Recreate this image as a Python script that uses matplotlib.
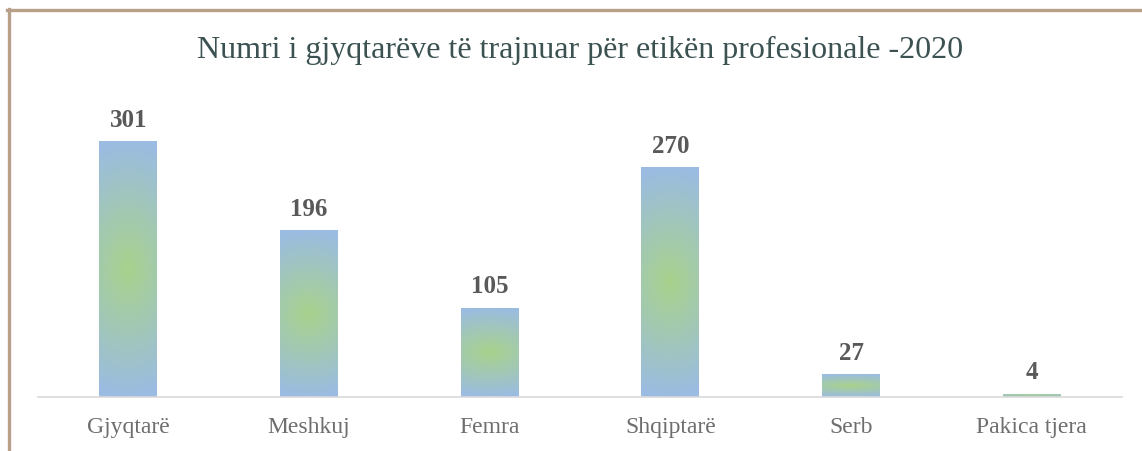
import numpy as np
import matplotlib
matplotlib.use("Agg")
from matplotlib import pyplot as plt
from matplotlib.lines import Line2D

categories = ["Gjyqtarë", "Meshkuj", "Femra", "Shqiptarë", "Serb", "Pakica tjera"]
values = [301, 196, 105, 270, 27, 4]
title = "Numri i gjyqtarëve të trajnuar për etikën profesionale -2020"

plt.rcParams['font.family'] = ['Liberation Serif', 'DejaVu Serif']

W, H = 1142, 452
fig = plt.figure(figsize=(W / 100, H / 100), dpi=100)
ax = fig.add_axes([38 / W, (H - 398) / H, (1122 - 38) / W, (398 - 100) / H])

x = np.arange(len(categories))
bars = ax.bar(x, values, width=0.32, color="none", edgecolor="none")

# radial-ish gradient: green in the middle, blue at the edges
green = np.array([168, 210, 140]) / 255
blue = np.array([155, 188, 226]) / 255
ny, nx = 200, 60
yy, xx = np.mgrid[-1:1:ny * 1j, -1:1:nx * 1j]
r = np.clip(np.sqrt((0.35 * xx) ** 2 + yy ** 2), 0, 1)
img = green[None, None, :] * (1 - r[..., None]) + blue[None, None, :] * r[..., None]

for b, v in zip(bars, values):
    x0, w, h = b.get_x(), b.get_width(), b.get_height()
    im = ax.imshow(img, extent=[x0, x0 + w, 0, h], aspect="auto", zorder=2,
                   interpolation="bilinear")
    im.set_clip_path(b)
    ax.text(x0 + w / 2, h + 12, str(v), ha="center", va="bottom",
            fontsize=18, fontweight="bold", color="#595959")

ax.set_xlim(-0.5, len(categories) - 0.5)
ax.set_ylim(0, 350)
ax.set_xticks(x)
ax.set_xticklabels(categories, fontsize=17, color="#6e6e6e")
ax.tick_params(axis="x", length=0, pad=14)
ax.set_yticks([])
for s in ["top", "left", "right"]:
    ax.spines[s].set_visible(False)
ax.spines["bottom"].set_color("#d9d9d9")
ax.spines["bottom"].set_linewidth(1.2)
ax.spines["bottom"].set_zorder(3)

fig.text(580 / W, 1 - 50 / H, title, ha="center", va="center",
         fontsize=23, color="#3c5252")

# brown frame (top and left edges)
fc = "#b8a089"
fig.add_artist(Line2D([7 / W, 1], [1 - 10.5 / H, 1 - 10.5 / H], color=fc,
                      lw=2.4, transform=fig.transFigure))
fig.add_artist(Line2D([8.5 / W, 8.5 / W], [0, 1 - 9.5 / H], color=fc,
                      lw=2.4, transform=fig.transFigure))

fig.savefig("out.png", dpi=100, facecolor="white")
